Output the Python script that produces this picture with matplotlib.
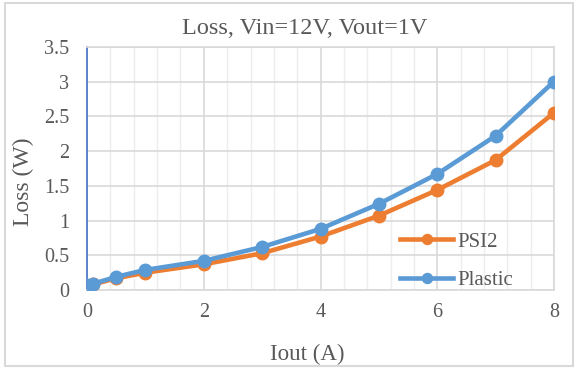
import matplotlib
matplotlib.use('Agg')
import matplotlib.pyplot as plt
from matplotlib.patches import Rectangle
from matplotlib.ticker import MultipleLocator

# Data
iout = [0, 0.1, 0.5, 1, 2, 3, 4, 5, 6, 7, 8]
loss_psi2 = [0.06, 0.08, 0.17, 0.25, 0.37, 0.53, 0.77, 1.07, 1.44, 1.87, 2.55]
loss_plastic = [0.07, 0.09, 0.19, 0.29, 0.42, 0.62, 0.88, 1.24, 1.67, 2.22, 3.0]
y_ticks = [0, 0.5, 1, 1.5, 2, 2.5, 3, 3.5]
y_tick_labels = ['0', '0.5', '1', '1.5', '2', '2.5', '3', '3.5']

plt.rcParams['font.family'] = ['Liberation Serif', 'DejaVu Serif']
text_color = '#595959'
grid_color = '#D9D9D9'

fig = plt.figure(figsize=(5.77, 3.69), dpi=100)
ax = fig.add_axes([0.151, 0.214, 0.809, 0.659])

ax.plot(iout, loss_psi2, color='#ED7D31', lw=3.3, marker='o', ms=9, label='PSI2', zorder=3)
ax.plot(iout, loss_plastic, color='#5B9BD5', lw=3.3, marker='o', ms=9, label='Plastic', zorder=4)

ax.set_xlim(0, 8)
ax.set_ylim(0, 3.5)
ax.xaxis.set_major_locator(MultipleLocator(2))
ax.xaxis.set_minor_locator(MultipleLocator(0.4))
ax.set_yticks(y_ticks)
ax.set_yticklabels(y_tick_labels)

ax.grid(which='major', color=grid_color, lw=1.2)
ax.grid(which='minor', axis='x', color='#EDEDED', lw=1.0)
ax.set_axisbelow(True)

for side in ['top', 'right', 'bottom']:
    ax.spines[side].set_color(grid_color)
    ax.spines[side].set_linewidth(1.2)
ax.spines['left'].set_color('#4472C4')
ax.spines['left'].set_linewidth(1.2)

ax.tick_params(which='both', length=0, labelsize=14.5, colors=text_color)
ax.tick_params(axis='y', pad=13)
ax.tick_params(axis='x', pad=9)

ax.set_title('Loss, Vin=12V, Vout=1V', fontsize=17.5, color=text_color, pad=9, x=0.467)
ax.set_xlabel('Iout (A)', fontsize=16.5, color=text_color)
ax.set_ylabel('Loss (W)', fontsize=17, color=text_color)
ax.xaxis.set_label_coords(0.471, -0.222)
ax.yaxis.set_label_coords(-0.113, 0.444)

leg = ax.legend(loc='center left', bbox_to_anchor=(0.649, 0.119), frameon=False,
                prop={'family': 'Liberation Serif', 'size': 15}, labelcolor=text_color,
                handlelength=2.5, handletextpad=0.25, labelspacing=0.9,
                borderpad=0, markerscale=0.8)

fig.patches.append(Rectangle((0.008, 0.008), 0.985, 0.985, transform=fig.transFigure,
                             fill=False, edgecolor='#D9D9D9', lw=1.5))

fig.savefig('out.png', dpi=100)
